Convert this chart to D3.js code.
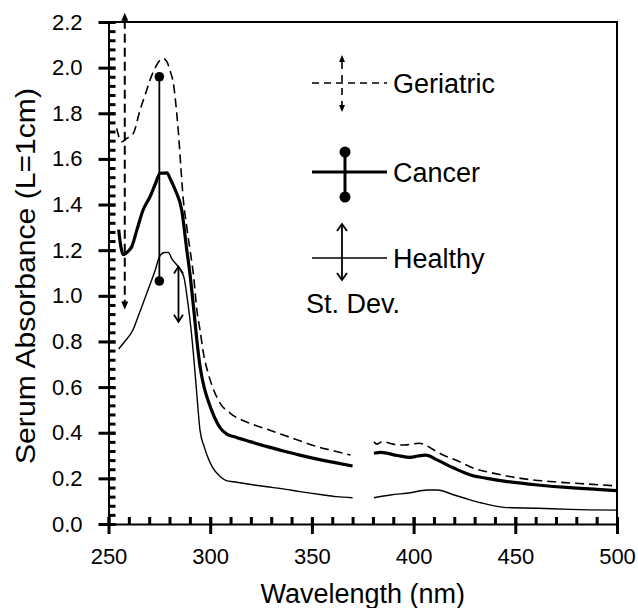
<!DOCTYPE html>
<html>
<head>
<meta charset="utf-8">
<script src="https://cdn.jsdelivr.net/npm/d3@7"></script>
<style>
  body { margin: 0; background: #fff; }
  text { font-family: "Liberation Sans", Arial, sans-serif; fill: #000; }
</style>
</head>
<body>
<svg id="chart" width="638" height="608"></svg>
<script>
// Serum absorbance spectra (null = gap in the scan)
const healthyNm = [255, 258, 262, 265, 267, 270, 273, 275, 277.5, 279.5, 281, 284, 287, 289, 290.5, 292, 293.5, 295, 297, 298.5, 301, 305, 308, 311.5, 320, 328, 335, 344, 355, 362, 370,
  375, 380.5, 388.6, 398.5, 406.7, 411.7, 420, 427, 433, 444.5, 461, 477, 500];
const healthyAbs = [0.767, 0.80, 0.85, 0.92, 0.967, 1.04, 1.113, 1.17, 1.19, 1.19, 1.164, 1.13, 1.084, 0.97, 0.86, 0.72, 0.56, 0.41, 0.34, 0.30, 0.25, 0.207, 0.19, 0.185, 0.173, 0.163, 0.155, 0.142, 0.128, 0.12, 0.115,
  null, 0.115, 0.127, 0.137, 0.149, 0.149, 0.127, 0.108, 0.093, 0.073, 0.069, 0.064, 0.061];

const cancerNm = [255, 256, 257.3, 259, 261.4, 264, 267, 270.4, 273, 275.4, 278.7, 280.5, 282.8, 286, 288.5, 290, 291.8, 293.5, 295, 297, 299, 302, 305, 308, 311.5, 320, 328, 336, 344, 355, 362, 370,
  375, 380.5, 384, 392, 398.5, 402, 406, 411.7, 420, 428, 436, 444.5, 461, 477, 490, 500];
const cancerAbs = [1.29, 1.22, 1.18, 1.19, 1.215, 1.29, 1.376, 1.434, 1.49, 1.537, 1.539, 1.51, 1.464, 1.376, 1.2, 1.1, 0.95, 0.8, 0.69, 0.6, 0.54, 0.47, 0.42, 0.395, 0.383, 0.36, 0.339, 0.32, 0.302, 0.28, 0.268, 0.254,
  null, 0.31, 0.314, 0.30, 0.292, 0.298, 0.302, 0.28, 0.244, 0.215, 0.2, 0.188, 0.171, 0.159, 0.152, 0.146];

const geriatricNm = [254, 256.5, 259, 262.2, 265.5, 268, 270.4, 273, 275.4, 277, 278.7, 280.5, 281.9, 283, 284.4, 285.6, 286.8, 288.5, 290.1, 291.8, 293.4, 295, 296.7, 299, 301.6, 304.9, 309.9, 319.7, 328, 336, 344, 352.6, 361, 369,
  375, 380.5, 382, 384.6, 390, 395.3, 402.7, 406, 410, 415, 420.7, 429.7, 439.6, 452.7, 469, 485.6, 500];
const geriatricAbs = [1.734, 1.675, 1.69, 1.712, 1.814, 1.88, 1.946, 2.0, 2.033, 2.04, 2.026, 1.98, 1.931, 1.85, 1.712, 1.56, 1.42, 1.3, 1.2, 1.09, 0.94, 0.85, 0.748, 0.66, 0.59, 0.529, 0.485, 0.441, 0.415, 0.39, 0.365, 0.339, 0.32, 0.302,
  null, 0.36, 0.35, 0.361, 0.35, 0.346, 0.354, 0.345, 0.324, 0.3, 0.28, 0.244, 0.222, 0.2, 0.185, 0.175, 0.167];

// Standard deviation bars: geriatric, cancer, healthy
const sdNm = [258, 275, 284.4];
const sdLow = [0.94, 1.065, 0.886];
const sdHigh = [2.24, 1.96, 1.128];

const xTicks = [250, 300, 350, 400, 450, 500];
const yTicks = [0, 0.2, 0.4, 0.6, 0.8, 1.0, 1.2, 1.4, 1.6, 1.8, 2.0, 2.2];
const xMinorTicks = d3.range(250, 501, 10);
const yMinorTicks = d3.range(0, 2.2001, 0.04);

const margin = { top: 22, right: 21, bottom: 84, left: 108.5 };
const plotW = 638 - margin.left - margin.right;
const plotH = 608 - margin.top - margin.bottom;

const svg = d3.select('#chart');
const g = svg.append('g').attr('transform', `translate(${margin.left},${margin.top})`);

const x = d3.scaleLinear().domain([250, 500]).range([0, plotW]);
const y = d3.scaleLinear().domain([0, 2.2]).range([plotH, 0]);

// Frame top and right
g.append('path')
  .attr('d', `M0,0H${plotW}V${plotH}`)
  .attr('fill', 'none').attr('stroke', '#000').attr('stroke-width', 2);

// Spectra
const zip = (nm, abs) => nm.map((d, i) => ({ nm: d, a: abs[i] }));
const spectrum = d3.line()
  .defined(d => d.a !== null)
  .x(d => x(d.nm))
  .y(d => y(d.a))
  .curve(d3.curveMonotoneX);

g.append('path').datum(zip(healthyNm, healthyAbs)).attr('d', spectrum)
  .attr('fill', 'none').attr('stroke', '#000').attr('stroke-width', 1.4);
g.append('path').datum(zip(geriatricNm, geriatricAbs)).attr('d', spectrum)
  .attr('fill', 'none').attr('stroke', '#000').attr('stroke-width', 1.6).attr('stroke-dasharray', '9,5');
g.append('path').datum(zip(cancerNm, cancerAbs)).attr('d', spectrum)
  .attr('fill', 'none').attr('stroke', '#000').attr('stroke-width', 3.2);

// Arrow head helper, (tx,ty) is the tip, dir -1 points up, +1 points down
function arrowHead(sel, tx, ty, dir, filled, w, h) {
  if (filled) {
    sel.append('path')
      .attr('d', `M${tx},${ty}L${tx - w},${ty - dir * h}L${tx + w},${ty - dir * h}Z`)
      .attr('fill', '#000');
  } else {
    sel.append('path')
      .attr('d', `M${tx - w},${ty - dir * h}L${tx},${ty}L${tx + w},${ty - dir * h}`)
      .attr('fill', 'none').attr('stroke', '#000').attr('stroke-width', 1.8);
  }
}

// Geriatric SD: dashed with filled heads
{
  const sx = x(sdNm[0]), yTop = y(sdHigh[0]), yBot = y(sdLow[0]);
  g.append('line').attr('x1', sx).attr('x2', sx).attr('y1', yTop + 7).attr('y2', yBot - 7)
    .attr('stroke', '#000').attr('stroke-width', 2).attr('stroke-dasharray', '9,5');
  arrowHead(g, sx, yTop, -1, true, 3.5, 8);
  arrowHead(g, sx, yBot, 1, true, 3.5, 8);
}
// Cancer SD: line with dots
{
  const sx = x(sdNm[1]), yTop = y(sdHigh[1]), yBot = y(sdLow[1]);
  g.append('line').attr('x1', sx).attr('x2', sx).attr('y1', yTop).attr('y2', yBot)
    .attr('stroke', '#000').attr('stroke-width', 1.8);
  g.append('circle').attr('cx', sx).attr('cy', yTop).attr('r', 4.8).attr('fill', '#000');
  g.append('circle').attr('cx', sx).attr('cy', yBot).attr('r', 4.8).attr('fill', '#000');
}
// Healthy SD: double arrow with open heads
{
  const sx = x(sdNm[2]), yTop = y(sdHigh[2]), yBot = y(sdLow[2]);
  g.append('line').attr('x1', sx).attr('x2', sx).attr('y1', yTop).attr('y2', yBot)
    .attr('stroke', '#000').attr('stroke-width', 1.8);
  arrowHead(g, sx, yTop, -1, false, 4.5, 7);
  arrowHead(g, sx, yBot, 1, false, 4.5, 7);
}

// Axes, drawn after the data: major ticks cross the axis line, minor ticks point inward
const xMinorAxis = g.append('g')
  .attr('transform', `translate(0,${plotH})`)
  .call(d3.axisTop(x).tickValues(xMinorTicks).tickSize(7).tickFormat(() => '').tickSizeOuter(0));
const yMinorAxis = g.append('g')
  .call(d3.axisRight(y).tickValues(yMinorTicks).tickSize(7).tickFormat(() => '').tickSizeOuter(0));
[xMinorAxis, yMinorAxis].forEach(a => {
  a.select('.domain').remove();
  a.selectAll('text').remove();
});

const xAxis = g.append('g')
  .attr('transform', `translate(0,${plotH})`)
  .call(d3.axisBottom(x).tickValues(xTicks).tickSize(10).tickPadding(14).tickSizeOuter(0));
xAxis.selectAll('.tick line').attr('y1', -7);

const yAxis = g.append('g')
  .call(d3.axisLeft(y).tickValues(yTicks).tickSize(10).tickPadding(16).tickFormat(d3.format('.1f')).tickSizeOuter(0));
yAxis.selectAll('.tick line').attr('x1', 7);

g.selectAll('.domain').attr('stroke', '#000').attr('stroke-width', 2);
g.selectAll('.tick line').attr('stroke', '#000').attr('stroke-width', 3);
g.selectAll('.tick text').attr('font-size', 22).attr('font-family', '"Liberation Sans", Arial, sans-serif');

// Legend
const leg = svg.append('g');
const lx1 = 312, lx2 = 387, labelX = 393;
// Geriatric
leg.append('line').attr('x1', lx1).attr('x2', lx2).attr('y1', 83).attr('y2', 83)
  .attr('stroke', '#000').attr('stroke-width', 1.6).attr('stroke-dasharray', '7,5');
leg.append('line').attr('x1', 342).attr('x2', 342).attr('y1', 62).attr('y2', 105)
  .attr('stroke', '#000').attr('stroke-width', 1.6).attr('stroke-dasharray', '7,6');
arrowHead(leg, 342, 55, -1, true, 3, 7);
arrowHead(leg, 342, 112, 1, true, 3, 7);
leg.append('text').attr('x', labelX).attr('y', 93).attr('font-size', 27).text('Geriatric');
// Cancer
leg.append('line').attr('x1', lx1).attr('x2', lx2).attr('y1', 172).attr('y2', 172)
  .attr('stroke', '#000').attr('stroke-width', 3.2);
leg.append('line').attr('x1', 345).attr('x2', 345).attr('y1', 152).attr('y2', 197)
  .attr('stroke', '#000').attr('stroke-width', 3);
leg.append('circle').attr('cx', 345).attr('cy', 152).attr('r', 5.5).attr('fill', '#000');
leg.append('circle').attr('cx', 345).attr('cy', 197).attr('r', 5.5).attr('fill', '#000');
leg.append('text').attr('x', labelX).attr('y', 182).attr('font-size', 27).text('Cancer');
// Healthy
leg.append('line').attr('x1', lx1).attr('x2', lx2).attr('y1', 258).attr('y2', 258)
  .attr('stroke', '#000').attr('stroke-width', 1.5);
leg.append('line').attr('x1', 342).attr('x2', 342).attr('y1', 224).attr('y2', 280)
  .attr('stroke', '#000').attr('stroke-width', 1.8);
arrowHead(leg, 342, 224, -1, false, 5, 7);
arrowHead(leg, 342, 280, 1, false, 5, 7);
leg.append('text').attr('x', labelX).attr('y', 268).attr('font-size', 27).text('Healthy');
leg.append('text').attr('x', 306).attr('y', 313).attr('font-size', 27).text('St. Dev.');

// Axis titles
svg.append('text')
  .attr('x', margin.left + plotW / 2)
  .attr('y', 603)
  .attr('text-anchor', 'middle')
  .attr('font-size', 27)
  .text('Wavelength (nm)');

svg.append('text')
  .attr('transform', 'rotate(-90)')
  .attr('x', -(margin.top + plotH / 2) - 3)
  .attr('y', 35)
  .attr('text-anchor', 'middle')
  .attr('font-size', 28)
  .attr('textLength', 376)
  .attr('lengthAdjust', 'spacingAndGlyphs')
  .text('Serum Absorbance (L=1cm)');
</script>
</body>
</html>
